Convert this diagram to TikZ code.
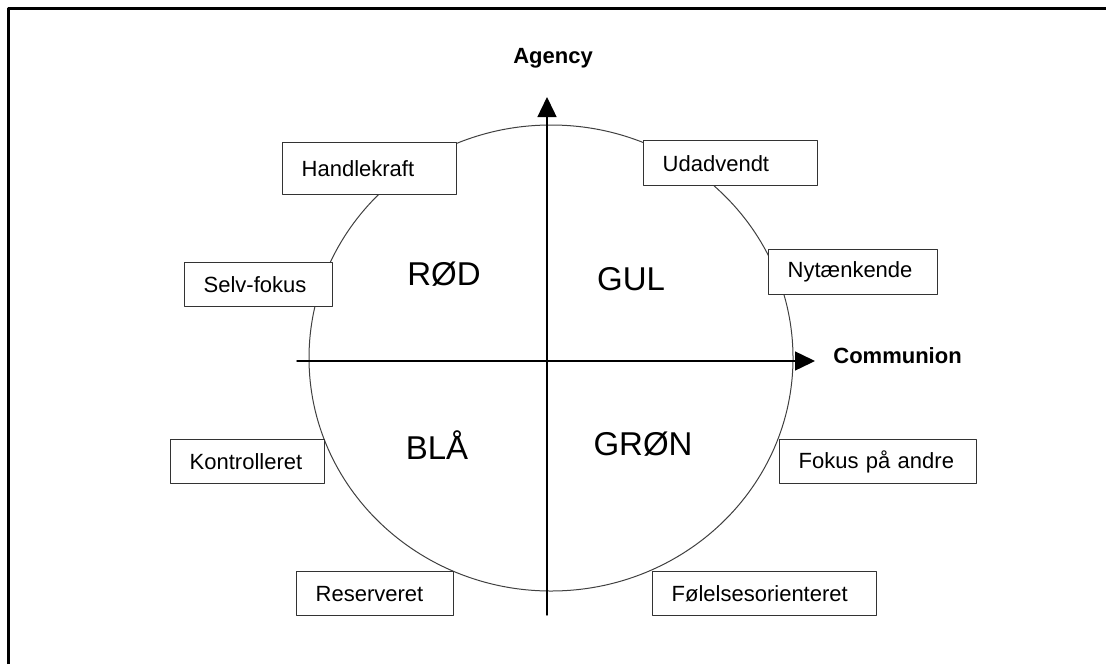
\documentclass[tikz,border=0pt]{standalone}
\usepackage{fontspec}
\setmainfont{Liberation Sans}
\usetikzlibrary{arrows.meta}
\begin{document}
\begin{tikzpicture}[x=0.5pt, y=-0.5pt, font=\fontsize{11}{13}\selectfont, line join=round, line cap=round, >={Triangle[length=10pt,width=9.5pt]},
	tag/.style={draw=black!80, line width=0.7pt, fill=white, anchor=north west, inner xsep=9.5pt, inner ysep=0pt, minimum height=22pt, text width=#1, align=left},
	farve/.style={font=\fontsize{16.5}{18}\selectfont, anchor=base, inner sep=0pt},
	akse/.style={font=\bfseries\fontsize{11}{13}\selectfont, inner sep=0pt}]
	\def \xmax{1106}
	\def \ymax{664}
	\useasboundingbox (0,0) rectangle (\xmax,\ymax);
	\draw[line width=1.25pt, line cap=butt] (8.5,\ymax)--(8.5,8.5)--(\xmax,8.5);
	% cirklen og akserne
	\draw[black!75, line width=0.5pt] (551,358) ellipse[x radius=242, y radius=233];
	\coordinate (venstre) at (297,361);
	\coordinate (hoejre) at (815,361);
	\coordinate (bund) at (547,615);
	\coordinate (top) at (547,97);
	\draw[->, line width=0.7pt] (venstre)--(hoejre);
	\draw[->, line width=0.7pt] (bund)--(top);
	\node[akse, anchor=base] (agency) at (553,63) {Agency};
	\node[akse, anchor=base west] (communion) at (833,363) {Communion};
	% farverne
	\node[farve] (roed) at (444,285) {RØD};
	\node[farve] (gul) at (631,290) {GUL};
	\node[farve] (blaa) at (437,459) {BLÅ};
	\node[farve] (groen) at (643,455) {GRØN};
	% egenskaberne
	\node[tag=68pt, minimum height=26pt] (handlekraft) at (282,142) {Handlekraft};
	\node[tag=55pt] (selvfokus) at (184,262) {Selv-fokus};
	\node[tag=68pt, minimum height=22.5pt] (udadvendt) at (643,140) {Udadvendt};
	\node[tag=65.5pt, minimum height=22.5pt] (nytaenkende) at (768,249) {Nytænkende};
	\node[tag=58pt] (kontrolleret) at (170,439) {Kontrolleret};
	\node[tag=59.5pt] (reserveret) at (296,571) {Reserveret};
	\node[tag=79.5pt] (fokusandre) at (779,439) {Fokus på andre};
	\node[tag=93pt] (foelelse) at (652,571) {Følelsesorienteret};
\end{tikzpicture}
\end{document}
